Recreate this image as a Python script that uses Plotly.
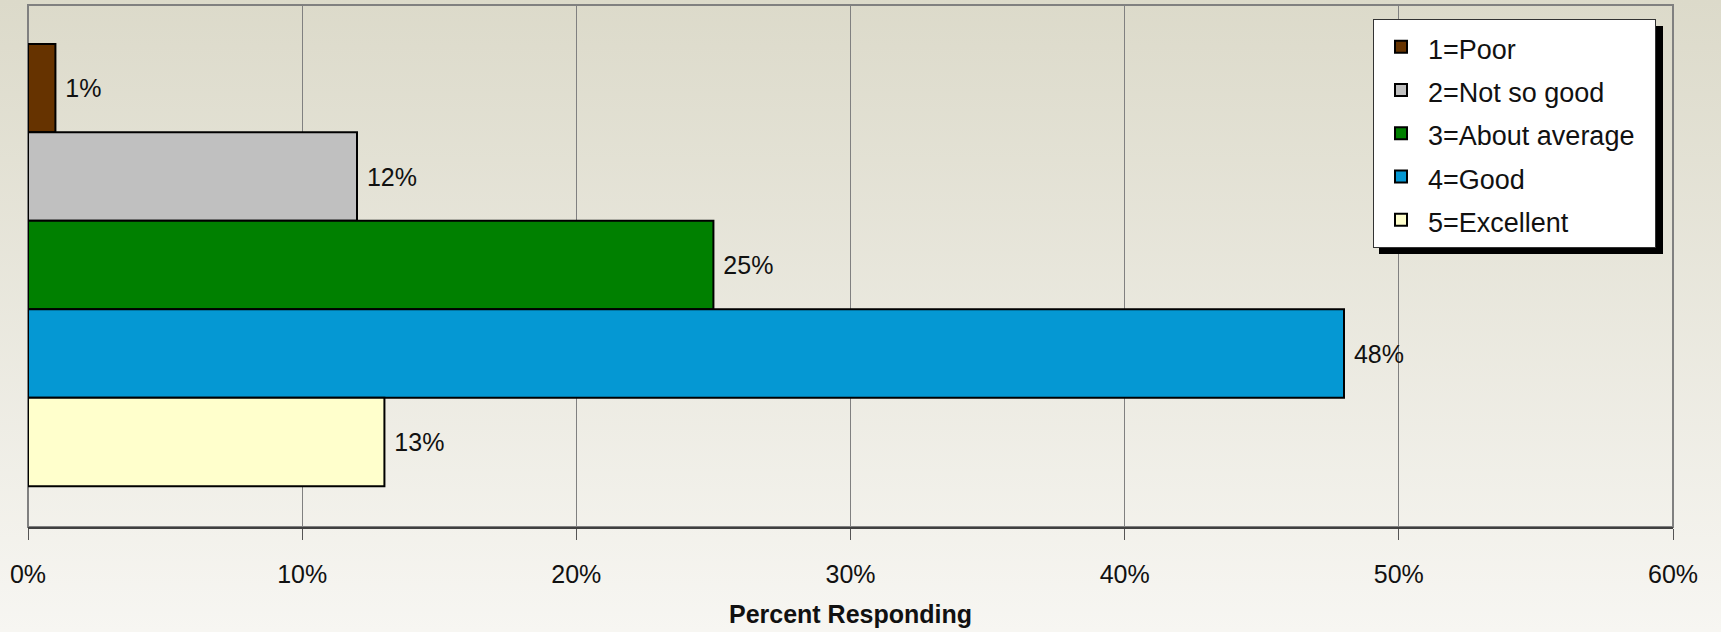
import base64

import plotly.graph_objs as go

# survey answers, percent of respondents
ratings = ["1=Poor", "2=Not so good", "3=About average", "4=Good", "5=Excellent"]
percent = [1, 12, 25, 48, 13]
bar_colors = ["#663300", "#C0C0C0", "#008000", "#0598D3", "#FFFFCC"]
x_ticks = [0, 10, 20, 30, 40, 50, 60]
x_tick_text = ["0%", "10%", "20%", "30%", "40%", "50%", "60%"]

W, H = 1721, 632
ML, MR, MT, MB = 28, 48, 5, 105
PW, PH = W - ML - MR, H - MT - MB

sans = "Liberation Sans, Arial, sans-serif"

# background gradient (khaki at top fading to off-white)
svg = ('<svg xmlns="http://www.w3.org/2000/svg" width="100" height="100" '
       'preserveAspectRatio="none"><defs><linearGradient id="g" x1="0" y1="0" '
       'x2="0" y2="1"><stop offset="0" stop-color="#DCDACA"/>'
       '<stop offset="1" stop-color="#F7F6F2"/></linearGradient></defs>'
       '<rect width="100" height="100" fill="url(#g)"/></svg>')
bg_image = "data:image/svg+xml;base64," + base64.b64encode(svg.encode()).decode()

longest = max(len(r) for r in ratings)

data = []
for name, val, col in zip(ratings, percent, bar_colors):
    # pad the widest entry so the legend box gets its wider look
    label = name + ("\u00a0" * 2 if len(name) == longest else "")
    data.append(go.Bar(
        x=[val],
        y=["Rating"],
        orientation="h",
        # legend spacing follows the legend font (31px), text shown smaller
        name='<span style="font-size:27px">%s</span>' % label,
        marker=dict(color=col, line=dict(color="black", width=2)),
        text=["\u00a0%d%%" % val],
        textposition="outside",
        textfont=dict(family=sans, size=25, color="#111111"),
        cliponaxis=False,
    ))

# legend box (left/top edge) and its drop shadow, in pixels of the page
leg_left, leg_top = 1373, 19
leg_x0 = (leg_left - ML) / PW
leg_y1 = (H - MB - leg_top) / PH
shadow = dict(
    type="rect", xref="paper", yref="paper",
    x0=(1379 - ML) / PW, x1=(1663 - ML) / PW,
    y0=(H - MB - 254) / PH, y1=(H - MB - 26) / PH,
    fillcolor="black", line=dict(width=0), layer="above",
)
frame = dict(
    type="rect", xref="paper", yref="paper", x0=0, x1=1, y0=0, y1=1,
    line=dict(color="#808080", width=2), layer="below",
)

layout = go.Layout(
    width=W,
    height=H,
    margin=dict(l=ML, r=MR, t=MT, b=MB, autoexpand=False),
    paper_bgcolor="#EAE8DD",
    plot_bgcolor="rgba(0,0,0,0)",
    images=[dict(
        source=bg_image,
        xref="paper", yref="paper",
        x=-ML / PW, y=1 + MT / PH,
        sizex=W / PW, sizey=H / PH,
        xanchor="left", yanchor="top",
        sizing="stretch",
        layer="below",
    )],
    barmode="group",
    bargap=0.1527,
    bargroupgap=0,
    font=dict(family=sans, color="#111111"),
    xaxis=dict(
        range=[0, 60],
        tickvals=x_ticks,
        ticktext=x_tick_text,
        tickfont=dict(family=sans, size=25, color="#111111"),
        ticks="outside",
        ticklen=11,
        tickcolor="#555555",
        tickwidth=1,
        ticklabelstandoff=13,
        showgrid=True,
        gridcolor="#808080",
        gridwidth=1,
        showline=True,
        linecolor="#404040",
        linewidth=2,
        zeroline=False,
        automargin=False,
        title=dict(text="<b>Percent Responding</b>",
                   font=dict(family=sans, size=25, color="#111111"),
                   standoff=18),
        fixedrange=True,
    ),
    yaxis=dict(
        range=[0.5018, -0.4982],
        showticklabels=False,
        showgrid=False,
        zeroline=False,
        automargin=False,
        fixedrange=True,
    ),
    showlegend=True,
    legend=dict(
        x=leg_x0, y=leg_y1,
        xanchor="left", yanchor="top",
        bgcolor="white",
        bordercolor="#333333",
        borderwidth=1,
        itemwidth=44,
        font=dict(family=sans, size=31, color="#111111"),
        traceorder="normal",
        tracegroupgap=0,
    ),
    shapes=[frame, shadow],
)

fig = go.Figure(data=data, layout=layout)
# drop the default page margin so the figure fills the window edge to edge
fig.write_html("out.html", config={"displayModeBar": False},
               post_script="document.body.style.margin = '0';")
